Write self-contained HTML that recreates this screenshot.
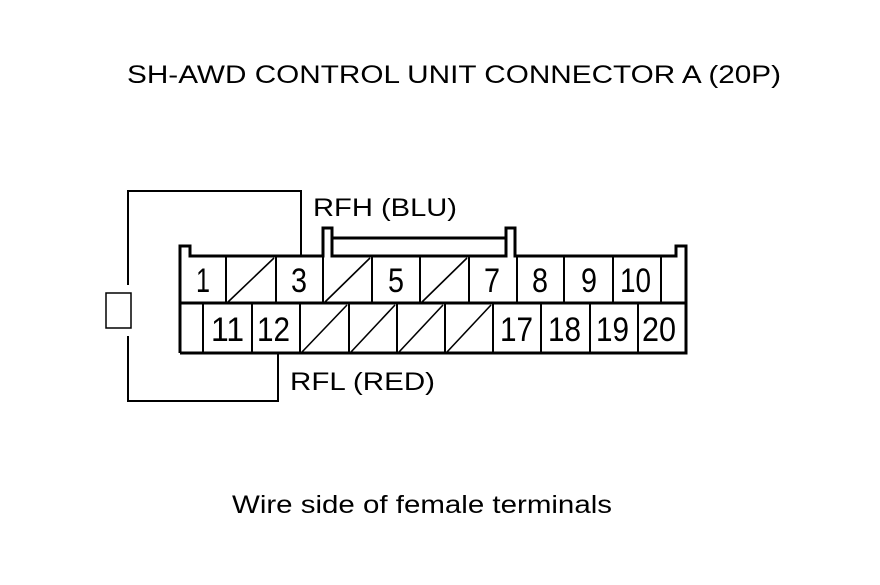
<!DOCTYPE html>
<html><head><style>
body{margin:0;background:#fff;}
svg text{font-family:"Liberation Sans",sans-serif;fill:#000;}
</style></head><body>
<svg width="880" height="580" viewBox="0 0 880 580" xmlns="http://www.w3.org/2000/svg">
<rect width="880" height="580" fill="#fff"/>
<text x="127" y="83" font-size="25" textLength="654" lengthAdjust="spacingAndGlyphs">SH-AWD CONTROL UNIT CONNECTOR A (20P)</text>
<text x="232" y="513" font-size="25" textLength="380" lengthAdjust="spacingAndGlyphs">Wire side of female terminals</text>
<text x="313" y="216" font-size="25" textLength="144" lengthAdjust="spacingAndGlyphs">RFH (BLU)</text>
<text x="290" y="390" font-size="25" textLength="145" lengthAdjust="spacingAndGlyphs">RFL (RED)</text>
<g fill="none" stroke="#000" stroke-width="2">
<polyline points="128,285 128,191 301,191 301,256"/>
<polyline points="128,336 128,401 278,401 278,353"/>
<rect x="106" y="293" width="25" height="35" stroke-width="1.5"/>
</g>
<g fill="none" stroke="#000" stroke-width="3" stroke-linejoin="miter">
<polyline points="180,353 180,246 190,246 190,256 323,256 323,228 332,228 332,256 506,256 506,228 515,228 515,256 676,256 676,246 686,246 686,353 180,353"/>
<line x1="332" y1="238" x2="506" y2="238"/>
<line x1="180" y1="303" x2="686" y2="303"/>
</g>
<g stroke="#000" stroke-width="2">
<line x1="226" y1="256" x2="226" y2="303"/><line x1="276" y1="256" x2="276" y2="303"/>
<line x1="323" y1="256" x2="323" y2="303"/><line x1="372" y1="256" x2="372" y2="303"/>
<line x1="420" y1="256" x2="420" y2="303"/><line x1="469" y1="256" x2="469" y2="303"/>
<line x1="517" y1="256" x2="517" y2="303"/><line x1="564" y1="256" x2="564" y2="303"/>
<line x1="613" y1="256" x2="613" y2="303"/><line x1="661" y1="256" x2="661" y2="303"/>
<line x1="203" y1="303" x2="203" y2="353"/><line x1="252" y1="303" x2="252" y2="353"/>
<line x1="300" y1="303" x2="300" y2="353"/><line x1="349" y1="303" x2="349" y2="353"/>
<line x1="397" y1="303" x2="397" y2="353"/><line x1="445" y1="303" x2="445" y2="353"/>
<line x1="493" y1="303" x2="493" y2="353"/><line x1="541" y1="303" x2="541" y2="353"/>
<line x1="590" y1="303" x2="590" y2="353"/><line x1="638" y1="303" x2="638" y2="353"/>
</g>
<g stroke="#000" stroke-width="1.6">
<line x1="228" y1="302" x2="274" y2="258"/>
<line x1="325" y1="302" x2="370" y2="258"/>
<line x1="422" y1="302" x2="467" y2="258"/>
<line x1="302" y1="352" x2="347" y2="305"/>
<line x1="351" y1="352" x2="395" y2="305"/>
<line x1="399" y1="352" x2="443" y2="305"/>
<line x1="447" y1="352" x2="491" y2="305"/>
</g>
<g font-size="34" lengthAdjust="spacingAndGlyphs">
<text x="196" y="292" textLength="14" lengthAdjust="spacingAndGlyphs">1</text>
<text x="291" y="292" textLength="16" lengthAdjust="spacingAndGlyphs">3</text>
<text x="388" y="292" textLength="16" lengthAdjust="spacingAndGlyphs">5</text>
<text x="484" y="292" textLength="16" lengthAdjust="spacingAndGlyphs">7</text>
<text x="532" y="292" textLength="16" lengthAdjust="spacingAndGlyphs">8</text>
<text x="581" y="292" textLength="16" lengthAdjust="spacingAndGlyphs">9</text>
<text x="620" y="292" textLength="31" lengthAdjust="spacingAndGlyphs">10</text>
<text x="211" y="341" textLength="33" lengthAdjust="spacingAndGlyphs">11</text>
<text x="257" y="341" textLength="33" lengthAdjust="spacingAndGlyphs">12</text>
<text x="500" y="341" textLength="33" lengthAdjust="spacingAndGlyphs">17</text>
<text x="548" y="341" textLength="33" lengthAdjust="spacingAndGlyphs">18</text>
<text x="596" y="341" textLength="33" lengthAdjust="spacingAndGlyphs">19</text>
<text x="642" y="341" textLength="34" lengthAdjust="spacingAndGlyphs">20</text>
</g>
</svg>
</body></html>
